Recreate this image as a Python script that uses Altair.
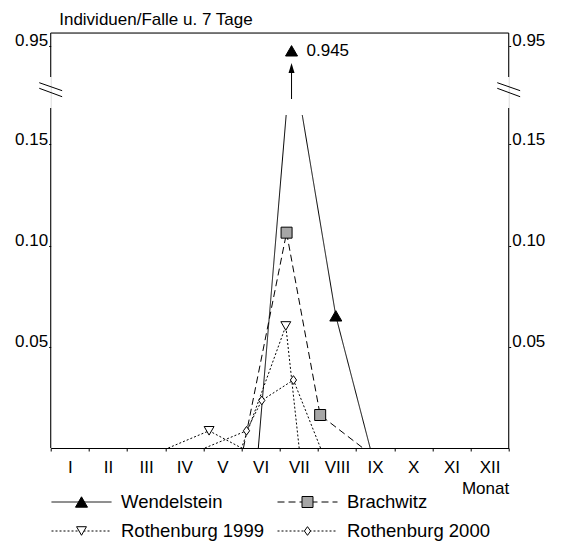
import json
import altair as alt
import pandas as pd

# ---------------- data ----------------
months = ["I", "II", "III", "IV", "V", "VI", "VII", "VIII", "IX", "X", "XI", "XII"]
series_names = ["Wendelstein", "Brachwitz", "Rothenburg 1999", "Rothenburg 2000"]

wend_month = [5.44, 6.31, 7.47, 8.37]
wend_value = [0.0, 0.945, 0.0653, 0.0]

brach_month = [5.05, 6.18, 7.06, 8.18]
brach_value = [0.0, 0.1064, 0.0163, 0.0]

r99_month = [3.08, 4.15, 5.00, 6.16, 6.51]
r99_value = [0.0, 0.0085, 0.0, 0.0603, 0.0]

r00_month = [4.04, 5.13, 5.53, 6.36, 7.07]
r00_value = [0.0, 0.0085, 0.0235, 0.0336, 0.0]

y_ticks = [0.05, 0.10, 0.15, 0.95]

rows = []
for name, ms, vs in zip(series_names,
                        [wend_month, brach_month, r99_month, r00_month],
                        [wend_value, brach_value, r99_value, r00_value]):
    for i, (m, v) in enumerate(zip(ms, vs)):
        rows.append({"series": name, "month": m, "value": v, "idx": i})
df = pd.DataFrame(rows)
pts = df[df["value"] > 0]
peak = df[df["series"] == "Wendelstein"].sort_values("value").tail(1)

# legend entries: 2 columns, filled row by row
leg_df = pd.DataFrame({"series": series_names})
leg_df["col"] = [i % 2 for i in range(len(series_names))]
leg_df["row"] = [i // 2 for i in range(len(series_names))]

# ---------------- scales ----------------
W, H = 458, 415
low_top, up_bottom, up_top = 0.168, 0.92, 0.962
yscale = alt.Scale(domain=[0, low_top, up_bottom, up_top], range=[H, 75, 44, 0],
                   nice=False, zero=False)
xscale = alt.Scale(domain=[0, 12], nice=False, zero=False)
leg_x = alt.Scale(domain=[0, 1], range=[30.8, 256.8], nice=False, zero=False)
leg_y = alt.Scale(domain=[0, 1], range=[469, 498], nice=False, zero=False)

FONT = "Liberation Sans"
FS = 17

# styles
dash_scale = alt.Scale(domain=series_names, range=[[1, 0], [7, 4], [2, 2], [2, 2]])
fill_scale = alt.Scale(domain=series_names, range=["black", "#a6a6a6", "white", "white"])
diamond = "M0,-1L0.72,0L0,1L-0.72,0Z"
shape_scale = alt.Scale(domain=series_names, range=["triangle-up", "square", "triangle-down", diamond])
size_scale = alt.Scale(domain=series_names, range=[144, 75, 130, 260])

# ---------------- axes ----------------
label_expr = json.dumps(months) + "[floor(datum.value)]"
x_label_axis = alt.Axis(values=[i + 0.5 for i in range(12)], labelExpr=label_expr,
                        ticks=False, domain=False, labelPadding=11, labelFontSize=FS,
                        labelFlush=False, labelOverlap=False, grid=False, orient="bottom",
                        labelColor="black", title="Monat", titleX=W, titleY=40,
                        titleAlign="right", titleBaseline="middle", titleFontSize=FS,
                        titleFontWeight="normal", titleColor="black")
x_tick_axis = alt.Axis(values=list(range(13)), labels=False, tickSize=3, grid=False,
                       domain=True, domainColor="black", tickColor="black", orient="bottom",
                       title=None)

y_left = alt.Axis(values=y_ticks, format=".2f", domain=False, tickSize=2, tickColor="black",
                  labelPadding=1, labelBaseline="alphabetic", labelFontSize=FS,
                  labelColor="black", grid=False, labelOverlap=False, labelFlush=False,
                  orient="left",
                  title="Individuen/Falle u. 7 Tage", titleAngle=0, titleAlign="left",
                  titleBaseline="alphabetic", titleX=8, titleY=-9, titleFontSize=FS,
                  titleFontWeight="normal", titleColor="black")
y_right = alt.Axis(values=y_ticks, format=".2f", domain=False, tickSize=2, tickColor="black",
                   labelPadding=1, labelBaseline="alphabetic", labelFontSize=FS,
                   labelColor="black", grid=False, labelOverlap=False, labelFlush=False,
                   orient="right", title=None)

lines = alt.Chart(df).mark_line(strokeWidth=1, color="black").encode(
    x=alt.X("month:Q", scale=xscale, axis=x_label_axis),
    y=alt.Y("value:Q", scale=yscale, axis=y_left),
    strokeDash=alt.StrokeDash("series:N", scale=dash_scale, legend=None),
)

# white cover where the Wendelstein peak crosses the axis break
mask_df = pd.DataFrame({"x": [5.9], "x2": [6.8], "y": [0.1645], "y2": [0.955]})
mask = alt.Chart(mask_df).mark_rect(fill="white").encode(
    x=alt.X("x:Q", scale=xscale, axis=None), x2="x2:Q",
    y=alt.Y("y:Q", scale=yscale, axis=None), y2="y2:Q",
)

# arrow pointing to the off-scale peak
arrow_x = wend_month[1]
arrow_df = pd.DataFrame({"x": [arrow_x], "y": [0.386], "y2": [0.9286]})
arrow = alt.Chart(arrow_df).mark_rule(color="black", strokeWidth=1).encode(
    x=alt.X("x:Q", scale=xscale, axis=None),
    y=alt.Y("y:Q", scale=yscale, axis=None), y2="y2:Q",
)
head = alt.Chart(arrow_df).mark_point(shape="M0,-1L0.6,1L-0.6,1Z", filled=True, fill="black",
                                      size=100, opacity=1).encode(
    x=alt.X("x:Q", scale=xscale, axis=None),
    y=alt.Y("y2:Q", scale=yscale, axis=None),
)

points = alt.Chart(pts).mark_point(filled=True, stroke="black", strokeWidth=1, opacity=1).encode(
    x=alt.X("month:Q", scale=xscale, axis=None),
    y=alt.Y("value:Q", scale=yscale, axis=None),
    shape=alt.Shape("series:N", scale=shape_scale, legend=None),
    fill=alt.Fill("series:N", scale=fill_scale, legend=None),
    size=alt.Size("series:N", scale=size_scale, legend=None),
)

peak_text = alt.Chart(peak).mark_text(align="left", baseline="middle", dx=15, fontSize=FS,
                                      color="black").encode(
    x=alt.X("month:Q", scale=xscale, axis=None),
    y=alt.Y("value:Q", scale=yscale, axis=None),
    text=alt.Text("value:Q", format=".3f"),
)

# frame: broken axis lines, top border and break marks
frame_df = pd.DataFrame({
    "x":  [0, 0, 12, 12, 0, -0.3, -0.3, 11.7, 11.7],
    "x2": [0, 0, 12, 12, 12, 0.3, 0.3, 12.3, 12.3],
    "y":  [0, up_bottom, 0, up_bottom, up_top, 0.782, 0.646, 0.782, 0.646],
    "y2": [low_top, up_top, low_top, up_top, up_top, 0.588, 0.442, 0.588, 0.442],
})
frame = alt.Chart(frame_df).mark_rule(color="black", strokeWidth=1).encode(
    x=alt.X("x:Q", scale=xscale, axis=x_tick_axis), x2="x2:Q",
    y=alt.Y("y:Q", scale=yscale, axis=y_right), y2="y2:Q",
)

# ---------------- legend (line sample + marker + label) ----------------
leg_base = alt.Chart(leg_df)
leg_line = leg_base.mark_rule(strokeWidth=1, color="black", xOffset=-30, x2Offset=30).encode(
    x=alt.X("col:Q", scale=leg_x, axis=None), x2="col:Q",
    y=alt.Y("row:Q", scale=leg_y, axis=None),
    strokeDash=alt.StrokeDash("series:N", scale=dash_scale, legend=None),
)
leg_mark = leg_base.mark_point(filled=True, stroke="black", strokeWidth=1, opacity=1).encode(
    x=alt.X("col:Q", scale=leg_x, axis=None),
    y=alt.Y("row:Q", scale=leg_y, axis=None),
    shape=alt.Shape("series:N", scale=shape_scale, legend=None),
    fill=alt.Fill("series:N", scale=fill_scale, legend=None),
    size=alt.Size("series:N", scale=size_scale, legend=None),
)
leg_text = leg_base.mark_text(align="left", baseline="middle", dx=39.5, fontSize=18.5,
                              color="black").encode(
    x=alt.X("col:Q", scale=leg_x, axis=None),
    y=alt.Y("row:Q", scale=leg_y, axis=None),
    text="series:N",
)

chart = alt.layer(lines, mask, arrow, head, points, peak_text, frame,
                  leg_line, leg_mark, leg_text
                  ).resolve_scale(x="independent", y="independent"
                  ).resolve_axis(x="independent", y="independent").properties(
    width=W, height=H,
    autosize=alt.AutoSizeParams(type="none"),
    padding={"left": 42.7, "top": 25, "right": 44.3, "bottom": 93},
    background="white",
).configure_view(stroke=None).configure(font=FONT)

chart.save("out.html", embed_options={"renderer": "svg", "actions": False})
